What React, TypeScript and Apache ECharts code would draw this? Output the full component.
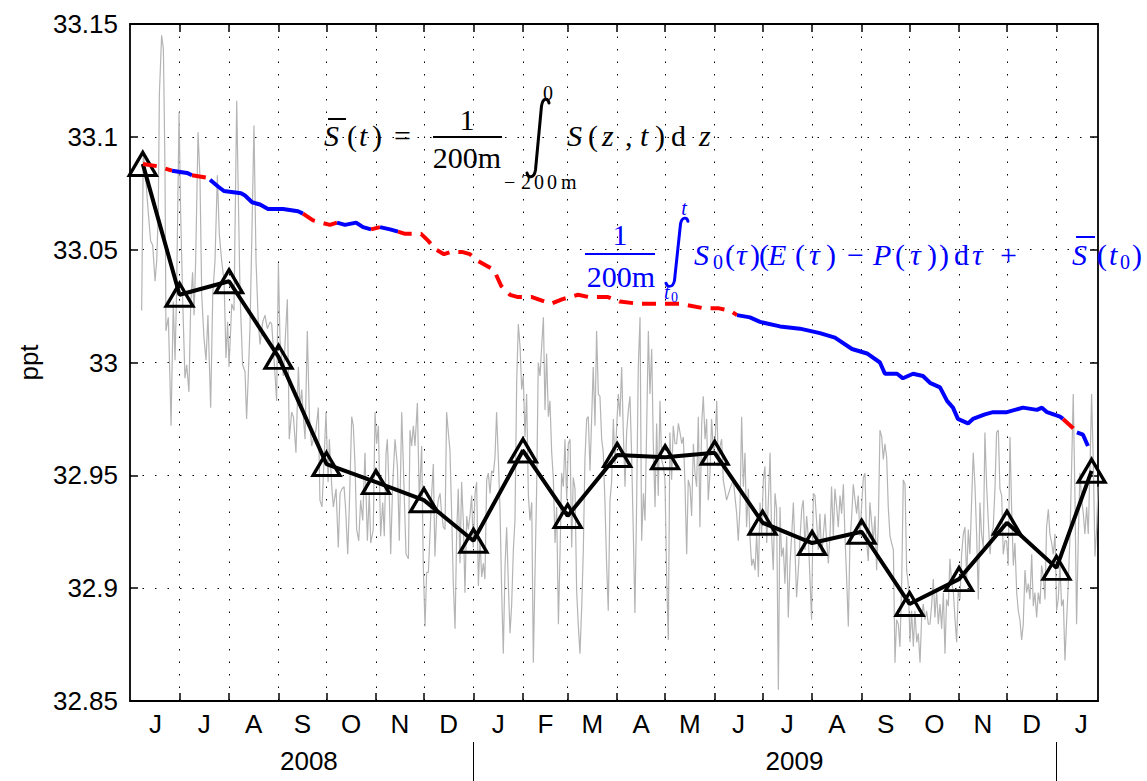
import React, { useEffect, useRef } from "react";
import * as echarts from "echarts";

// ---------- time helpers (day 0 = 2008-06-01) ----------
const START = Date.UTC(2008, 5, 1);
const DAY_MS = 86400000;
const dayOf = (iso: string) => {
  const [y, m, d] = iso.split("-").map(Number);
  return (Date.UTC(y, m - 1, d) - START) / DAY_MS;
};

const axisStart = "2008-05-31";
const axisEnd = "2010-01-27";

// months shown: Jun 2008 .. Jan 2010
const monthLetters = ["J", "J", "A", "S", "O", "N", "D", "J", "F", "M", "A", "M", "J", "J", "A", "S", "O", "N", "D", "J"];
const yearLabels = ["2008", "2009"];
const yearLabelDates = ["2008-09-20", "2009-07-21"];
const yearBoundaryDates = ["2009-01-01", "2010-01-01"];

const yMin = 32.85;
const yMax = 33.15;
const yStep = 0.05;

// ---------- daily salinity (grey) : [day, ppt] ----------
const dailySalinity: [number, number][] = [
  [6.3, 33.023], [7.3, 33.092], [8.4, 33.086], [10.5, 33.066], [11.9, 33.054], [13.2, 33.052], [14.7, 33.036], [15.7, 33.045],
  [16.7, 33.066], [17.4, 33.119], [18.8, 33.145], [19.9, 33.139], [20.9, 33.086], [21.5, 33.014], [23.0, 33.020], [24.0, 32.993],
  [24.7, 32.972], [26.1, 33.027], [27.2, 33.001], [28.2, 33.032], [29.7, 33.111], [30.7, 33.066], [32.0, 33.027], [33.4, 32.993],
  [34.5, 32.999], [35.9, 32.987], [37.0, 33.026], [38.2, 33.040], [39.1, 33.021], [40.1, 33.045], [41.6, 33.102], [42.8, 33.082],
  [43.9, 33.030], [45.3, 33.011], [46.6, 33.001], [47.8, 33.021], [49.5, 32.980], [50.8, 33.030], [52.2, 33.045], [53.7, 33.083],
  [54.9, 33.057], [56.4, 33.045], [57.9, 33.036], [59.1, 33.002], [60.1, 33.018], [61.0, 32.998], [62.7, 33.026], [64.1, 33.023],
  [65.8, 33.116], [66.8, 33.074], [67.9, 33.030], [69.5, 32.999], [71.0, 32.996], [72.0, 32.975], [73.1, 32.995], [74.1, 33.015],
  [75.4, 33.060], [76.6, 33.105], [77.9, 33.045], [79.3, 33.018], [80.4, 33.008], [82.1, 33.018], [83.5, 33.021], [85.0, 33.015],
  [86.7, 33.018], [87.7, 33.017], [88.7, 33.007], [90.8, 32.983], [91.9, 33.044], [92.9, 33.010], [95.0, 32.994], [97.5, 33.028],
  [98.7, 32.966], [100.2, 32.978], [101.3, 32.976], [102.9, 32.960], [104.4, 32.998], [105.4, 32.980], [106.5, 32.988], [107.5, 32.976],
  [108.6, 32.966], [110.0, 33.014], [111.3, 32.976], [112.7, 32.963], [113.8, 32.966], [115.4, 32.970], [116.9, 32.980], [117.9, 32.939],
  [119.2, 32.936], [120.5, 32.957], [121.7, 32.978], [123.0, 32.947], [123.8, 32.966], [125.3, 32.945], [126.3, 32.936], [128.0, 32.944],
  [129.4, 32.918], [130.5, 32.942], [131.7, 32.944], [133.0, 32.945], [134.0, 32.935], [135.3, 32.915], [136.3, 32.936], [137.8, 32.976],
  [138.8, 32.972], [139.9, 32.954], [140.9, 32.926], [142.2, 32.921], [143.4, 32.939], [144.7, 32.930], [146.1, 32.960], [147.6, 32.921],
  [148.8, 32.942], [149.7, 32.920], [151.3, 32.926], [152.4, 32.978], [153.4, 32.964], [154.5, 32.972], [155.9, 32.923], [157.2, 32.938],
  [158.2, 32.923], [159.3, 32.960], [160.1, 32.966], [161.4, 32.939], [162.2, 32.915], [163.4, 32.945], [164.9, 32.966], [166.4, 32.954],
  [167.6, 32.921], [169.1, 32.978], [170.1, 32.955], [171.8, 32.915], [173.3, 32.913], [174.3, 32.970], [175.3, 32.963], [176.4, 32.972],
  [177.4, 32.963], [178.9, 32.982], [180.1, 32.939], [181.6, 32.963], [182.6, 32.910], [183.7, 32.883], [184.7, 32.907], [185.8, 32.907],
  [186.8, 32.924], [187.8, 32.941], [188.9, 32.955], [189.9, 32.914], [191.0, 32.933], [192.0, 32.939], [193.1, 32.942], [194.1, 32.933],
  [195.2, 32.927], [196.2, 32.926], [197.2, 32.978], [198.3, 32.969], [199.3, 32.961], [200.4, 32.932], [201.4, 32.902], [202.5, 32.882],
  [203.5, 32.924], [204.5, 32.944], [205.6, 32.911], [206.6, 32.947], [207.7, 32.929], [208.7, 32.898], [209.8, 32.932], [210.8, 32.926],
  [211.8, 32.932], [212.9, 32.941], [213.9, 32.918], [215.0, 32.942], [216.0, 32.947], [217.1, 32.901], [218.1, 32.921], [219.2, 32.905],
  [220.2, 32.911], [221.2, 32.904], [222.3, 32.948], [223.3, 32.951], [224.4, 32.942], [225.4, 32.952], [226.5, 32.951], [227.5, 32.958],
  [228.5, 32.978], [229.6, 32.957], [230.6, 32.936], [231.7, 32.898], [232.7, 32.871], [233.8, 32.910], [234.8, 32.927], [235.9, 32.901],
  [236.9, 32.880], [237.9, 32.892], [239.0, 32.917], [240.0, 32.930], [241.1, 32.992], [242.1, 33.017], [243.2, 33.007], [244.2, 32.988],
  [245.2, 32.994], [246.3, 32.967], [247.3, 32.986], [248.4, 32.941], [249.4, 32.930], [250.5, 32.938], [251.5, 32.867], [252.5, 32.905],
  [253.6, 32.945], [254.6, 33.000], [255.7, 32.994], [256.7, 33.007], [257.8, 33.020], [258.8, 32.979], [259.8, 33.004], [260.9, 32.976],
  [261.9, 32.983], [263.0, 32.960], [264.0, 32.949], [265.1, 32.920], [266.1, 32.936], [267.2, 32.884], [268.2, 32.915], [269.2, 32.951],
  [270.3, 32.945], [271.3, 32.966], [272.4, 32.939], [273.4, 32.964], [274.5, 32.966], [275.5, 32.918], [276.5, 32.949], [277.6, 32.944],
  [278.6, 32.899], [279.7, 32.883], [280.7, 32.871], [281.8, 32.892], [282.8, 32.917], [283.8, 32.957], [284.9, 32.975], [285.9, 32.976],
  [287.0, 32.952], [289.0, 32.998], [290.1, 32.972], [291.1, 33.014], [292.2, 32.986], [293.2, 32.985], [294.3, 32.966], [295.3, 32.960],
  [296.3, 32.939], [297.4, 32.910], [298.4, 32.890], [299.5, 32.939], [300.5, 32.947], [301.6, 32.975], [302.6, 32.955], [303.7, 32.972],
  [304.7, 32.986], [305.7, 32.976], [306.8, 32.998], [307.8, 32.970], [308.9, 32.945], [309.9, 32.969], [311.0, 32.979], [312.0, 32.985],
  [313.0, 32.960], [314.1, 32.924], [315.1, 32.889], [316.2, 32.939], [317.2, 32.998], [318.3, 33.020], [319.3, 32.921], [320.4, 32.942],
  [321.4, 32.930], [322.4, 32.969], [323.5, 33.014], [324.5, 32.986], [325.6, 33.006], [326.6, 32.964], [327.7, 32.936], [328.7, 32.973],
  [329.7, 32.941], [330.8, 32.983], [331.8, 32.957], [332.9, 32.954], [333.9, 32.948], [335.0, 32.904], [336.0, 32.877], [337.0, 32.969],
  [338.1, 32.948], [339.1, 32.972], [340.2, 32.964], [341.2, 32.964], [342.3, 32.973], [343.3, 32.969], [344.4, 32.964], [345.4, 32.967],
  [346.4, 32.947], [347.5, 32.915], [348.5, 32.948], [349.6, 32.945], [350.6, 32.932], [351.7, 32.964], [352.7, 32.951], [353.7, 32.945],
  [354.8, 32.976], [355.8, 32.927], [356.9, 32.973], [357.9, 32.985], [359.0, 32.966], [360.0, 32.975], [361.0, 32.939], [362.1, 32.951],
  [363.1, 32.975], [364.2, 32.961], [365.2, 32.963], [366.3, 32.983], [367.3, 32.954], [368.4, 32.963], [369.4, 32.966], [370.4, 32.948],
  [372.5, 32.939], [374.6, 32.944], [376.7, 32.948], [378.8, 32.933], [379.8, 32.921], [380.9, 32.936], [381.9, 32.976], [383.0, 32.945],
  [384.0, 32.960], [385.0, 32.927], [386.1, 32.944], [387.1, 32.923], [388.2, 32.910], [389.2, 32.913], [390.3, 32.908], [391.3, 32.924],
  [392.4, 32.905], [393.4, 32.938], [394.4, 32.924], [395.5, 32.948], [396.5, 32.954], [397.6, 32.920], [398.6, 32.938], [399.7, 32.960],
  [400.7, 32.923], [401.7, 32.908], [402.8, 32.942], [403.8, 32.935], [404.9, 32.855], [405.9, 32.936], [406.9, 32.914], [408.0, 32.918],
  [409.0, 32.902], [410.1, 32.923], [411.1, 32.887], [412.2, 32.911], [413.2, 32.923], [414.3, 32.938], [415.3, 32.917], [416.3, 32.896],
  [417.4, 32.908], [418.4, 32.921], [419.5, 32.935], [420.5, 32.939], [421.6, 32.917], [422.6, 32.932], [423.6, 32.923], [424.7, 32.904],
  [425.7, 32.886], [426.8, 32.942], [427.8, 32.941], [428.9, 32.929], [429.9, 32.917], [430.9, 32.933], [432.0, 32.914], [433.0, 32.923],
  [434.1, 32.933], [435.1, 32.921], [436.2, 32.911], [437.2, 32.923], [438.2, 32.945], [439.3, 32.923], [440.3, 32.944], [441.4, 32.936],
  [442.4, 32.927], [443.5, 32.941], [444.5, 32.933], [445.6, 32.946], [446.6, 32.923], [447.6, 32.905], [448.7, 32.883], [449.7, 32.920],
  [450.8, 32.932], [451.8, 32.946], [452.9, 32.939], [453.9, 32.933], [454.9, 32.941], [456.0, 32.923], [457.0, 32.936], [458.1, 32.949],
  [459.1, 32.951], [460.2, 32.920], [461.2, 32.912], [462.2, 32.938], [463.3, 32.929], [464.3, 32.921], [465.4, 32.932], [466.4, 32.908],
  [467.5, 32.929], [468.5, 32.970], [469.6, 32.967], [470.6, 32.957], [471.6, 32.964], [472.7, 32.958], [473.7, 32.936], [474.8, 32.923],
  [475.8, 32.920], [476.9, 32.917], [477.9, 32.867], [478.9, 32.886], [480.0, 32.884], [481.0, 32.874], [482.1, 32.902], [483.1, 32.948],
  [484.2, 32.946], [485.2, 32.908], [486.2, 32.902], [487.3, 32.876], [488.3, 32.890], [489.4, 32.874], [490.4, 32.890], [491.5, 32.876],
  [492.5, 32.880], [493.6, 32.867], [494.6, 32.887], [495.6, 32.893], [496.7, 32.886], [497.7, 32.890], [498.8, 32.884], [499.8, 32.884],
  [500.9, 32.893], [501.9, 32.904], [502.9, 32.887], [504.0, 32.899], [505.0, 32.884], [506.1, 32.893], [507.1, 32.882], [508.2, 32.898],
  [509.2, 32.871], [510.2, 32.895], [511.3, 32.892], [512.3, 32.913], [513.4, 32.902], [514.4, 32.899], [515.5, 32.886], [516.5, 32.876],
  [517.5, 32.899], [518.6, 32.895], [519.6, 32.915], [520.7, 32.924], [521.7, 32.927], [522.8, 32.904], [523.8, 32.926], [524.8, 32.915],
  [525.9, 32.939], [526.9, 32.960], [528.0, 32.945], [529.0, 32.924], [530.1, 32.895], [531.1, 32.938], [532.1, 32.924], [533.2, 32.918],
  [534.2, 32.969], [535.3, 32.945], [536.3, 32.930], [537.4, 32.915], [538.4, 32.924], [539.4, 32.927], [540.5, 32.944], [541.5, 32.969],
  [542.6, 32.970], [543.6, 32.944], [544.7, 32.941], [545.7, 32.915], [546.8, 32.921], [547.8, 32.921], [548.8, 32.910], [549.9, 32.967],
  [550.9, 32.936], [552.0, 32.910], [553.0, 32.920], [554.1, 32.898], [555.1, 32.890], [556.1, 32.886], [557.2, 32.877], [558.2, 32.884],
  [559.3, 32.908], [560.3, 32.898], [561.4, 32.902], [562.4, 32.895], [563.5, 32.915], [564.5, 32.892], [565.5, 32.898], [566.6, 32.887],
  [567.6, 32.898], [568.7, 32.893], [569.7, 32.910], [570.8, 32.905], [571.8, 32.895], [572.8, 32.927], [573.9, 32.935], [574.9, 32.924],
  [576.0, 32.920], [577.0, 32.915], [578.1, 32.924], [579.1, 32.890], [580.1, 32.895], [581.2, 32.910], [582.2, 32.892], [583.3, 32.895],
  [584.3, 32.868], [585.4, 32.886], [586.4, 32.902], [587.5, 32.924], [588.5, 32.954], [589.5, 32.986], [590.6, 32.939], [591.6, 32.884],
  [592.7, 32.924], [593.7, 32.951], [594.8, 32.939], [595.8, 32.933], [596.8, 32.924], [597.9, 32.936], [598.9, 32.924], [600.0, 32.954],
  [601.0, 32.986], [602.1, 32.954], [603.1, 32.914], [604.2, 32.927], [605.0, 32.945],
];

// ---------- monthly means (black triangles) ----------
const monthlyDates = [
  "2008-06-08", "2008-07-01", "2008-08-01", "2008-09-01", "2008-10-01", "2008-11-01", "2008-12-01",
  "2009-01-01", "2009-02-01", "2009-03-01", "2009-04-01", "2009-05-01", "2009-06-01", "2009-07-01",
  "2009-08-01", "2009-09-01", "2009-10-01", "2009-11-01", "2009-12-01", "2010-01-01", "2010-01-23",
];
const monthlyPpt = [
  33.088, 33.030, 33.036, 33.0025, 32.955, 32.947, 32.939, 32.921, 32.961, 32.932, 32.959,
  32.958, 32.960, 32.929, 32.920, 32.925, 32.893, 32.904, 32.929, 32.909, 32.952,
];

// ---------- integrated E-P estimate (blue solid / red dashed) ----------
const integralDays = [
  7.1, 15.9, 25.3, 34.7, 37.8, 46.6, 49.1, 54.1, 57.8, 68.5, 71.0, 75.4, 80.4, 85.4, 94.8, 104.2,
  107.3, 113.6, 118.6, 124.2, 128.6, 133.6, 140.5, 144.9, 149.9, 155.5, 161.8, 166.8, 171.2, 181.2,
  185.6, 190.6, 195.6, 200.0, 206.8, 211.8, 216.9, 221.9, 226.9, 231.3, 236.9, 241.9, 250.7, 262.6,
  269.4, 279.5, 286.3, 298.2, 305.7, 317.6, 327.0, 343.9, 358.3, 367.7, 374.6, 379.0, 387.1, 393.4,
  405.9, 418.4, 430.9, 440.3, 451.0, 460.4, 468.5, 471.6, 479.2, 482.9, 489.2, 495.4, 499.8, 506.1,
  510.5, 514.2, 517.3, 523.6, 526.7, 534.2, 539.3, 548.0, 558.0, 566.8, 569.9, 573.1, 581.2, 583.1,
  589.3, 591.8, 595.6, 598.7,
];
const integralPpt = [
  33.088, 33.087, 33.085, 33.084, 33.083, 33.082, 33.081, 33.078, 33.076, 33.075, 33.074, 33.071, 33.070, 33.068, 33.068, 33.067,
  33.066, 33.063, 33.062, 33.061, 33.062, 33.061, 33.062, 33.060, 33.059, 33.060, 33.059, 33.058, 33.057, 33.057,
  33.054, 33.050, 33.048, 33.049, 33.049, 33.048, 33.045, 33.043, 33.041, 33.034, 33.030, 33.029, 33.029, 33.026,
  33.028, 33.030, 33.029, 33.029, 33.027, 33.026, 33.026, 33.026, 33.024, 33.024, 33.023, 33.021, 33.020, 33.018,
  33.016, 33.015, 33.013, 33.011, 33.006, 33.004, 33.000, 32.995, 32.995, 32.993, 32.995, 32.994, 32.991, 32.989,
  32.983, 32.980, 32.975, 32.973, 32.975, 32.977, 32.978, 32.978, 32.980, 32.979, 32.980, 32.978, 32.976, 32.975,
  32.971, 32.969, 32.968, 32.963,
];
// b = blue (solid) segment, r = red (dashed) segment, starting at each point
const integralSign =
  "rrbbrrbbbbbbbbbb" + "rrrrbbbbrbbrrr" + "rrrrrrrrrrrrrr" + "rrrrrrrrrrrbbb" + "bbbbbbbbbbbbbb" + "bbbbbbbbbbbbbr" + "rbbb";

const BLUE = "#0000ff";
const RED = "#ff0000";
const SANS = "Liberation Sans";
const SERIF = "Liberation Serif";

let shapeRegistered = false;
function registerShapes() {
  if (shapeRegistered) return;
  echarts.graphic.registerShape(
    "integralSign",
    echarts.graphic.extendPath("M23,5 C22,0 17,-1 15.5,8 L9.5,72 C8,81 2,80 1,75", {})
  );
  shapeRegistered = true;
}

// a single glyph / word of a formula, left aligned, vertically centred
function glyph(text: string, x: number, y: number, color: string, size: number, italic = false, align = "left") {
  return {
    type: "text",
    x,
    y,
    z: 100,
    style: {
      legacy: false,
      text,
      fill: color,
      fontFamily: SERIF,
      fontStyle: italic ? "italic" : "normal",
      fontSize: size,
      align,
      verticalAlign: "middle",
    },
  };
}

export default function App() {
  const ref = useRef<HTMLDivElement>(null);

  useEffect(() => {
    if (!ref.current) return;
    registerShapes();
    const chart = echarts.init(ref.current, undefined, { renderer: "svg" });

    const xMin = dayOf(axisStart);
    const xMax = dayOf(axisEnd);

    const monthStarts = monthLetters.map((_, i) => (Date.UTC(2008, 5 + i, 1) - START) / DAY_MS);
    const monthEnds = monthLetters.map((_, i) => (Date.UTC(2008, 6 + i, 1) - START) / DAY_MS);
    const monthMid = monthStarts.map((s, i) => (s + monthEnds[i]) / 2);
    const monthTicks = monthStarts.slice(1);
    const yearLabelDays = yearLabelDates.map(dayOf);
    const yearBoundaryDays = yearBoundaryDates.map(dayOf);

    const monthFmt = (v: number) => {
      const i = monthMid.findIndex((m) => Math.abs(m - v) < 0.01);
      return i >= 0 ? monthLetters[i] : "";
    };
    const yearFmt = (v: number) => {
      const i = yearLabelDays.findIndex((m) => Math.abs(m - v) < 0.01);
      return i >= 0 ? yearLabels[i] : "";
    };

    // integral runs
    const runs: any[] = [];
    let s = 0;
    for (let i = 1; i < integralDays.length; i++) {
      if (integralSign[i] !== integralSign[s]) {
        runs.push({ from: s, to: i, c: integralSign[s] });
        s = i;
      }
    }
    runs.push({ from: s, to: integralDays.length - 1, c: integralSign[s] });

    const runSeries = runs.map((r) => ({
      type: "line",
      data: integralDays.slice(r.from, r.to + 1).map((d, k) => [d, integralPpt[r.from + k]]),
      symbol: "none",
      z: 4,
      lineStyle: {
        color: r.c === "b" ? BLUE : RED,
        width: 4,
        type: r.c === "b" ? "solid" : [14, 9],
        cap: "butt",
      },
    }));

    const frameLine = { show: true, onZero: false, lineStyle: { color: "#000", width: 1.8 } };
    const dotted = { show: true, lineStyle: { color: "#000", width: 1, type: [1.5, 11] } };

    const K = "#000";
    const F = 30; // formula font size
    const L = 20; // limits / subscripts
    const yb = 135; // black formula main line
    const yl = 254; // blue formula main line

    const graphic: any[] = [
      // ---- black formula ----
      glyph("S", 324, yb, K, F, true),
      { type: "line", z: 100, shape: { x1: 328, y1: 119, x2: 346, y2: 119 }, style: { stroke: K, lineWidth: 2 } },
      glyph("(", 347, yb, K, F),
      glyph("t", 359, yb, K, F, true),
      glyph(")", 372, yb, K, F),
      glyph("=", 394, yb, K, F),
      glyph("1", 467, 119, K, F, false, "center"),
      { type: "rect", z: 100, shape: { x: 433, y: 136, width: 69, height: 2 }, style: { fill: K } },
      glyph("200m", 467, 157, K, F, false, "center"),
      { type: "integralSign", z: 100, x: 526, y: 98, style: { stroke: K, lineWidth: 3, fill: "none", lineCap: "round" } },
      glyph("0", 548, 93, K, L, false, "center"),
      glyph("−", 504, 182, K, L),
      glyph("2", 521, 182, K, L),
      glyph("0", 534, 182, K, L),
      glyph("0", 547, 182, K, L),
      glyph("m", 561, 182, K, L),
      glyph("S", 567, yb, K, F, true),
      glyph("(", 588, yb, K, F),
      glyph("z", 602, yb, K, F, true),
      glyph(",", 625, yb, K, F),
      glyph("t", 640, yb, K, F, true),
      glyph(")", 655, yb, K, F),
      glyph("d", 671, yb, K, F),
      glyph("z", 699, yb, K, F, true),
      // ---- blue formula ----
      glyph("1", 620, 234, BLUE, F, false, "center"),
      { type: "rect", z: 100, shape: { x: 585, y: 253, width: 70, height: 2 }, style: { fill: BLUE } },
      glyph("200m", 621, 276, BLUE, F, false, "center"),
      { type: "integralSign", z: 100, x: 665, y: 217, scaleY: 0.88, style: { stroke: BLUE, lineWidth: 3, fill: "none", lineCap: "round", strokeNoScale: true } },
      glyph("t", 684, 208, BLUE, L, true, "center"),
      glyph("t", 664, 292, BLUE, L, true),
      glyph("0", 671, 297, BLUE, 14),
      glyph("S", 694, yl, BLUE, F, true),
      glyph("0", 713, yl + 8, BLUE, L),
      glyph("(", 725, yl, BLUE, F),
      glyph("τ", 736, yl, BLUE, F, true),
      glyph(")", 750, yl, BLUE, F),
      glyph("(", 759, yl, BLUE, F),
      glyph("E", 768, yl, BLUE, F, true),
      glyph("(", 795, yl, BLUE, F),
      glyph("τ", 809, yl, BLUE, F, true),
      glyph(")", 826, yl, BLUE, F),
      glyph("−", 847, yl, BLUE, F),
      glyph("P", 873, yl, BLUE, F, true),
      glyph("(", 895, yl, BLUE, F),
      glyph("τ", 910, yl, BLUE, F, true),
      glyph(")", 927, yl, BLUE, F),
      glyph(")", 939, yl, BLUE, F),
      glyph("d", 954, yl, BLUE, F),
      glyph("τ", 972, yl, BLUE, F, true),
      glyph("+", 1000, yl, BLUE, F),
      glyph("S", 1072, yl, BLUE, F, true),
      { type: "line", z: 100, shape: { x1: 1076, y1: 237, x2: 1095, y2: 237 }, style: { stroke: BLUE, lineWidth: 2 } },
      glyph("(", 1097, yl, BLUE, F),
      glyph("t", 1109, yl, BLUE, F, true),
      glyph("0", 1120, yl + 8, BLUE, L),
      glyph(")", 1132, yl, BLUE, F),
    ];

    const option: any = {
      animation: false,
      backgroundColor: "#fff",
      textStyle: { fontFamily: SANS },
      grid: { left: 130, right: 49, top: 24, bottom: 80, containLabel: false },
      xAxis: [
        {
          type: "value",
          min: xMin,
          max: xMax,
          position: "bottom",
          axisLine: frameLine,
          axisTick: { show: true, inside: true, length: 8, customValues: monthTicks, lineStyle: { color: K, width: 1.5 } },
          axisLabel: { show: true, customValues: monthMid, formatter: monthFmt, color: K, fontSize: 26, fontFamily: SANS, margin: 10 },
          splitLine: dotted,
        },
        {
          type: "value",
          min: xMin,
          max: xMax,
          position: "bottom",
          offset: 41,
          axisLine: { show: false, onZero: false },
          axisTick: { show: true, inside: false, length: 40, customValues: yearBoundaryDays, lineStyle: { color: K, width: 1 } },
          axisLabel: { show: true, customValues: yearLabelDays, formatter: yearFmt, color: K, fontSize: 26, fontFamily: SANS, margin: 6 },
          splitLine: { show: false },
        },
        {
          type: "value",
          min: xMin,
          max: xMax,
          position: "top",
          axisLine: frameLine,
          axisTick: { show: true, inside: true, length: 8, customValues: monthTicks, lineStyle: { color: K, width: 1.5 } },
          axisLabel: { show: false },
          splitLine: { show: false },
        },
      ],
      yAxis: [
        {
          type: "value",
          min: yMin,
          max: yMax,
          interval: yStep,
          position: "left",
          name: "ppt",
          nameLocation: "middle",
          nameRotate: 90,
          nameGap: 88,
          nameTextStyle: { fontSize: 26, color: K, fontFamily: SANS },
          axisLine: frameLine,
          axisTick: { show: true, inside: true, length: 8, lineStyle: { color: K, width: 1.5 } },
          axisLabel: {
            color: K,
            fontSize: 26,
            fontFamily: SANS,
            margin: 12,
            formatter: (v: number) => String(parseFloat(v.toFixed(2))),
          },
          splitLine: dotted,
        },
        {
          type: "value",
          min: yMin,
          max: yMax,
          interval: yStep,
          position: "right",
          axisLine: frameLine,
          axisTick: { show: true, inside: true, length: 8, lineStyle: { color: K, width: 1.5 } },
          axisLabel: { show: false },
          splitLine: { show: false },
        },
      ],
      series: [
        {
          type: "line",
          data: dailySalinity,
          symbol: "none",
          z: 1,
          lineStyle: { color: "#b4b4b4", width: 1.2 },
        },
        {
          type: "line",
          data: monthlyDates.map((d, i) => [dayOf(d), monthlyPpt[i]]),
          symbol: "triangle",
          symbolSize: [27, 23],
          showAllSymbol: true,
          z: 3,
          lineStyle: { color: K, width: 4 },
          itemStyle: { color: "rgba(0,0,0,0)", borderColor: K, borderWidth: 3.2 },
        },
        ...runSeries,
      ],
      graphic,
    };

    chart.setOption(option);
    return () => chart.dispose();
  }, []);

  return (
    <div
      ref={ref}
      style={{ position: "absolute", left: 0, top: 0, width: 1147, height: 781, background: "#fff" }}
    />
  );
}
